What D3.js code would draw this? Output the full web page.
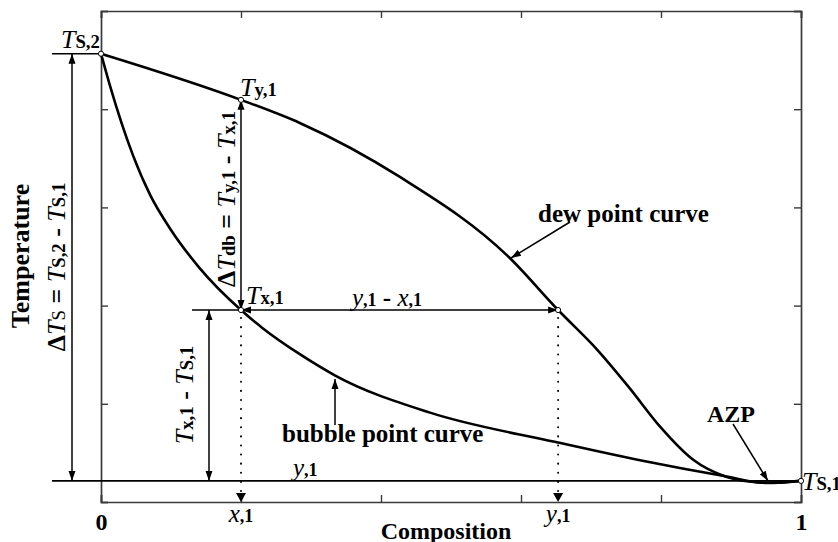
<!DOCTYPE html>
<html>
<head>
<meta charset="utf-8">
<script src="https://cdn.jsdelivr.net/npm/d3@7"></script>
<style>
  html, body { margin: 0; padding: 0; background: #fff; }
  svg { display: block; }
  svg text { font-family: "Liberation Serif", "Times New Roman", Times, serif; }
</style>
</head>
<body>
<svg id="chart" width="838" height="542"></svg>
<script>
// Composition grid points and the two saturation curves (reduced temperature 0..1)
const bubbleX = [0, 0.013, 0.046, 0.07, 0.1, 0.14, 0.2, 0.231, 0.284, 0.334, 0.47, 0.65, 0.77, 0.89, 0.95, 1.0];
const bubbleT = [0.913, 0.847, 0.705, 0.626, 0.554, 0.478, 0.391, 0.354, 0.301, 0.258, 0.182, 0.122, 0.085, 0.053, 0.039, 0.043];
const dewX = [0, 0.2, 0.284, 0.427, 0.584, 0.653, 0.709, 0.754, 0.799, 0.846, 0.894, 0.94, 0.96, 1.0];
const dewT = [0.913, 0.819, 0.772, 0.662, 0.497, 0.391, 0.31, 0.234, 0.153, 0.086, 0.051, 0.04, 0.039, 0.043];

// Characteristic states
const x1 = 0.2, y1 = 0.653;
const Ts2 = 0.913, Ts1 = 0.043, Tx1 = 0.391, Ty1 = 0.819;

const xTicks = [0, 0.2, 0.4, 0.6, 0.8, 1];
const yTicks = [0, 0.2, 0.4, 0.6, 0.8, 1];
const xTickLabels = ["0", "", "", "", "", "1"];

const FONT = "Liberation Serif, Times New Roman, Times, serif";
const svg = d3.select("#chart");
const m = { left: 101, right: 801, top: 11, bottom: 502 };
const x = d3.scaleLinear().domain([0, 1]).range([m.left, m.right]);
const y = d3.scaleLinear().domain([0, 1]).range([m.bottom, m.top]);

const frameColor = "#3a3a3a";
const ink = "#000";

// arrowhead marker
const defs = svg.append("defs");
defs.append("marker")
  .attr("id", "ah").attr("viewBox", "0 0 10 10")
  .attr("refX", 10).attr("refY", 5)
  .attr("markerWidth", 10).attr("markerHeight", 10)
  .attr("markerUnits", "userSpaceOnUse")
  .attr("orient", "auto-start-reverse")
  .append("path").attr("d", "M0,1.5 L10,5 L0,8.5 Z").attr("fill", ink);

// Axes with inward ticks on all four sides
const tickLen = 7;
const gx = svg.append("g").attr("transform", `translate(0,${m.bottom})`)
  .call(d3.axisBottom(x).tickValues(xTicks).tickSize(-tickLen).tickPadding(11)
    .tickFormat((d, i) => xTickLabels[i]));
const gxt = svg.append("g").attr("transform", `translate(0,${m.top})`)
  .call(d3.axisTop(x).tickValues(xTicks).tickSize(-tickLen).tickFormat(""));
const gy = svg.append("g").attr("transform", `translate(${m.left},0)`)
  .call(d3.axisLeft(y).tickValues(yTicks).tickSize(-tickLen).tickFormat(""));
const gyr = svg.append("g").attr("transform", `translate(${m.right},0)`)
  .call(d3.axisRight(y).tickValues(yTicks).tickSize(-tickLen).tickFormat(""));
[gx, gxt, gy, gyr].forEach(g => {
  g.attr("font-family", FONT);
  g.selectAll(".domain").attr("stroke", frameColor).attr("stroke-width", 1.7);
  g.selectAll(".tick line").attr("stroke", frameColor).attr("stroke-width", 1.4);
});
gx.selectAll(".tick text").attr("font-size", 24).attr("font-weight", "bold")
  .attr("fill", ink).attr("font-family", FONT);

// Rich-text helper: segments drawn as tspans
function rich(g, segs, size) {
  const t = g.append("text").attr("font-size", size).attr("fill", ink).attr("font-family", FONT);
  segs.forEach(s => {
    t.append("tspan").text(s.t)
      .attr("font-style", s.i ? "italic" : "normal")
      .attr("font-weight", s.b === false ? "normal" : "bold")
      .attr("font-size", s.s ? size * 0.72 : size);
  });
  return t;
}

// Curves
const line = d3.line().x(d => x(d[0])).y(d => y(d[1])).curve(d3.curveMonotoneX);
svg.append("path").datum(d3.zip(bubbleX, bubbleT)).attr("d", line)
  .attr("fill", "none").attr("stroke", ink).attr("stroke-width", 2.6);
svg.append("path").datum(d3.zip(dewX, dewT)).attr("d", line)
  .attr("fill", "none").attr("stroke", ink).attr("stroke-width", 2.6);

// Reference lines
function seg(x1p, y1p, x2p, y2p, opts = {}) {
  const p = svg.append("line").attr("x1", x1p).attr("y1", y1p).attr("x2", x2p).attr("y2", y2p)
    .attr("stroke", ink).attr("stroke-width", opts.w || 1.5);
  if (opts.end) p.attr("marker-end", "url(#ah)");
  if (opts.start) p.attr("marker-start", "url(#ah)");
  if (opts.dash) p.attr("stroke-dasharray", opts.dash).attr("stroke-width", 2).attr("stroke-linecap", "round");
  return p;
}
// Ts,2 and Ts,1 levels
seg(52, y(Ts2), x(0), y(Ts2), { w: 1.6 });
seg(52, y(Ts1), x(1), y(Ts1), { w: 1.6 });
// ΔTs span
seg(72, y(Ts1), 72, y(Ts2), { start: true, end: true });
// Tx,1 level and composition gap
seg(192, y(Tx1), x(x1), y(Tx1), { w: 1.6 });
seg(x(x1), y(Tx1), x(y1), y(Tx1), { start: true, end: true });
// ΔTdb span
seg(x(x1), y(Tx1), x(x1), y(Ty1), { start: true, end: true });
// Tx,1 - Ts,1 span
seg(209, y(Ts1), 209, y(Tx1), { start: true, end: true });
// dotted drop lines to the composition axis
seg(x(x1), y(Tx1) + 8, x(x1), m.bottom - 8, { dash: "0.1 9" });
seg(x(y1), y(Tx1) + 8, x(y1), m.bottom - 8, { dash: "0.1 9" });
[x1, y1].forEach(v => {
  svg.append("path").attr("d", `M${x(v) - 5},${m.bottom - 9} L${x(v) + 5},${m.bottom - 9} L${x(v)},${m.bottom} Z`).attr("fill", ink);
});

// Callout arrows
seg(335, 425, 335, 379, { end: true, w: 1.5 });
seg(570, 222, 511, 258, { end: true, w: 1.5 });
seg(733, 424, 768, 481, { end: true, w: 1.5 });

// Open state markers
[[0, Ts2], [x1, Ty1], [x1, Tx1], [y1, Tx1], [1, Ts1]].forEach(p => {
  svg.append("circle").attr("cx", x(p[0])).attr("cy", y(p[1])).attr("r", 2.6)
    .attr("fill", "#fff").attr("stroke", ink).attr("stroke-width", 1);
});

// Labels
const g = svg.append("g");
rich(g, [{ t: "T", i: true, b: false }, { t: "S,2", s: true }], 26).attr("x", 61).attr("y", 48);
rich(g, [{ t: "T", i: true, b: false }, { t: "y,1", s: true }], 26).attr("x", 240).attr("y", 96);
rich(g, [{ t: "T", i: true, b: false }, { t: "x,1", s: true }], 26).attr("x", 246).attr("y", 304);
rich(g, [{ t: "T", i: true, b: false }, { t: "S,1", s: true }], 26).attr("x", 802).attr("y", 490);
rich(g, [{ t: "y", i: true, b: false }, { t: ",1", s: true }, { t: " - ", b: true }, { t: "x", i: true, b: false }, { t: ",1", s: true }], 25)
  .attr("x", 352).attr("y", 306);
rich(g, [{ t: "y", i: true, b: false }, { t: ",1", s: true }], 25).attr("x", 293).attr("y", 476);
rich(g, [{ t: "x", i: true, b: false }, { t: ",1", s: true }], 25).attr("x", x(x1)).attr("y", 522).attr("text-anchor", "middle");
rich(g, [{ t: "y", i: true, b: false }, { t: ",1", s: true }], 25).attr("x", x(y1)).attr("y", 522).attr("text-anchor", "middle");

function bold(txt, size) {
  return g.append("text").text(txt).attr("font-size", size).attr("font-weight", "bold")
    .attr("fill", ink).attr("font-family", FONT);
}
bold("Composition", 24).attr("x", 446).attr("y", 539).attr("text-anchor", "middle");
bold("Temperature", 26).attr("transform", "translate(29,256) rotate(-90)").attr("text-anchor", "middle");
bold("bubble point curve", 25).attr("x", 282).attr("y", 442);
bold("dew point curve", 25).attr("x", 538).attr("y", 222);
bold("AZP", 24).attr("x", 707).attr("y", 422);

rich(g, [{ t: "Δ", b: true }, { t: "T", i: true, b: false }, { t: "S", s: true, b: false }, { t: " = ", b: true },
  { t: "T", i: true, b: false }, { t: "S,2", s: true }, { t: " - ", b: true }, { t: "T", i: true, b: false }, { t: "S,1", s: true }], 26)
  .attr("text-anchor", "middle").attr("transform", "translate(65,267) rotate(-90)");
rich(g, [{ t: "Δ", b: true }, { t: "T", i: true, b: false }, { t: "db", s: true }, { t: " = ", b: true },
  { t: "T", i: true, b: false }, { t: "y,1", s: true }, { t: " - ", b: true }, { t: "T", i: true, b: false }, { t: "x,1", s: true }], 26)
  .attr("text-anchor", "middle").attr("transform", "translate(235,199) rotate(-90)");
rich(g, [{ t: "T", i: true, b: false }, { t: "x,1", s: true }, { t: " - ", b: true }, { t: "T", i: true, b: false }, { t: "S,1", s: true }], 26)
  .attr("text-anchor", "middle").attr("transform", "translate(193,395) rotate(-90)");
</script>
</body>
</html>
